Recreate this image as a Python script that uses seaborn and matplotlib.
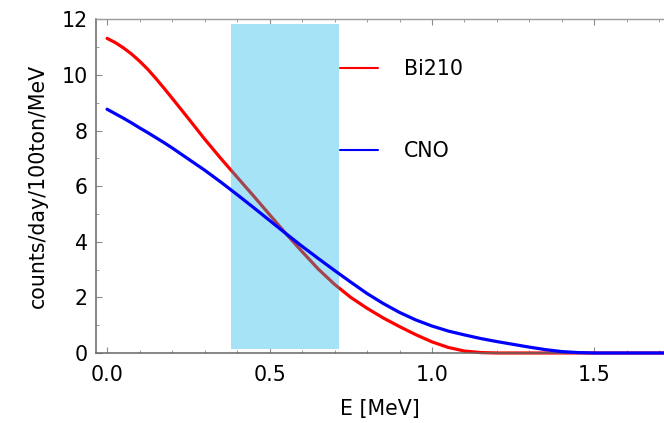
import numpy as np
import pandas as pd
import matplotlib
matplotlib.use('Agg')
import matplotlib.pyplot as plt
import seaborn as sns
from matplotlib.patches import Rectangle
from matplotlib.lines import Line2D
from matplotlib.ticker import MultipleLocator, FixedLocator

# energy grid [MeV] and spectra
energy = [0.000, 0.025, 0.050, 0.075, 0.100, 0.125, 0.150, 0.175, 0.20, 0.25,
          0.30, 0.35, 0.40, 0.45, 0.50, 0.55, 0.60, 0.65, 0.70, 0.75,
          0.80, 0.85, 0.90, 0.95, 1.00, 1.05, 1.10, 1.15, 1.20, 1.25,
          1.30, 1.35, 1.40, 1.45, 1.50, 1.55, 1.60, 1.65, 1.70, 1.75]
bi210 = [11.32, 11.17, 10.98, 10.76, 10.50, 10.21, 9.88, 9.53, 9.17, 8.44,
         7.70, 7.00, 6.33, 5.66, 4.98, 4.30, 3.65, 3.02, 2.47, 2.00,
         1.61, 1.26, 0.95, 0.66, 0.40, 0.20, 0.07, 0.015, 0.0, 0.0,
         0.0, 0.0, 0.0, 0.0, 0.0, 0.0, 0.0, 0.0, 0.0, 0.0]
cno = [8.77, 8.61, 8.45, 8.28, 8.10, 7.93, 7.75, 7.57, 7.38, 6.98,
       6.58, 6.15, 5.70, 5.24, 4.77, 4.30, 3.84, 3.40, 2.97, 2.55,
       2.14, 1.78, 1.46, 1.19, 0.97, 0.79, 0.65, 0.52, 0.41, 0.31,
       0.21, 0.12, 0.05, 0.015, 0.0, 0.0, 0.0, 0.0, 0.0, 0.0]

# energy window (shaded band)
window_lo, window_hi = 0.382, 0.714
window_bottom, window_top = 0.14, 11.83

x_ticks = [0.0, 0.5, 1.0, 1.5]
x_ticklabels = ['0.0', '0.5', '1.0', '1.5']
y_ticks = [0, 2, 4, 6, 8, 10, 12]

df = pd.DataFrame({'E': energy, 'Bi210': bi210, 'CNO': cno})

sns.set_theme(style='white')
plt.rcParams['font.family'] = ['DejaVu Sans']
plt.rcParams['text.color'] = 'black'
plt.rcParams['axes.labelcolor'] = 'black'

fig, ax = plt.subplots(figsize=(6.64, 4.23), dpi=100)
fig.subplots_adjust(left=0.1446, right=1.0, bottom=0.1655, top=0.956)

sns.lineplot(data=df, x='E', y='Bi210', color='red', linewidth=2.3,
             ax=ax, zorder=2, clip_on=False)

band = Rectangle((window_lo, window_bottom), window_hi - window_lo,
                 window_top - window_bottom, facecolor='#a6e3f7',
                 edgecolor='none', zorder=3)
ax.add_patch(band)

# red seen through the band turns brownish
overlay = ax.plot(df['E'], df['Bi210'], color='#a5444f', linewidth=2.3, zorder=4)[0]
overlay.set_clip_path(band)

sns.lineplot(data=df, x='E', y='CNO', color='blue', linewidth=2.3,
             ax=ax, zorder=5, clip_on=False)

ax.set_xlim(-0.034, 1.714)
ax.set_ylim(0, 12.03)
ax.xaxis.set_major_locator(FixedLocator(x_ticks))
ax.set_xticklabels(x_ticklabels)
ax.xaxis.set_minor_locator(MultipleLocator(0.1))
ax.yaxis.set_major_locator(FixedLocator(y_ticks))
ax.yaxis.set_minor_locator(MultipleLocator(1))

ax.tick_params(axis='both', which='both', direction='in', bottom=True,
               left=True, top=True, right=False, colors='#8a8a8a',
               labelcolor='black', labelsize=14.8)
ax.tick_params(which='major', length=4.5, width=0.8)
ax.tick_params(which='minor', length=2.2, width=0.6)
ax.tick_params(axis='x', pad=8.8)
ax.tick_params(axis='y', pad=5.8)

for side in ['left', 'bottom']:
    ax.spines[side].set_color('#666666')
    ax.spines[side].set_linewidth(1.1)
ax.spines['top'].set_color('#9a9a9a')
ax.spines['top'].set_linewidth(1.0)
ax.spines['right'].set_visible(False)

ax.set_xlabel('E [MeV]', fontsize=14.8, labelpad=10)
ax.set_ylabel('counts/day/100ton/MeV', fontsize=14.8, labelpad=10)

handles = [Line2D([], [], color='red', linewidth=1.5),
           Line2D([], [], color='blue', linewidth=1.5)]
ax.legend(handles, ['Bi210', 'CNO'], loc='upper left',
          bbox_to_anchor=(0.4296, 0.879), frameon=False, fontsize=14.8,
          borderpad=0, borderaxespad=0, handlelength=1.85,
          handletextpad=1.26, labelspacing=3.0)

plt.savefig('out.png', dpi=100)
plt.close()
